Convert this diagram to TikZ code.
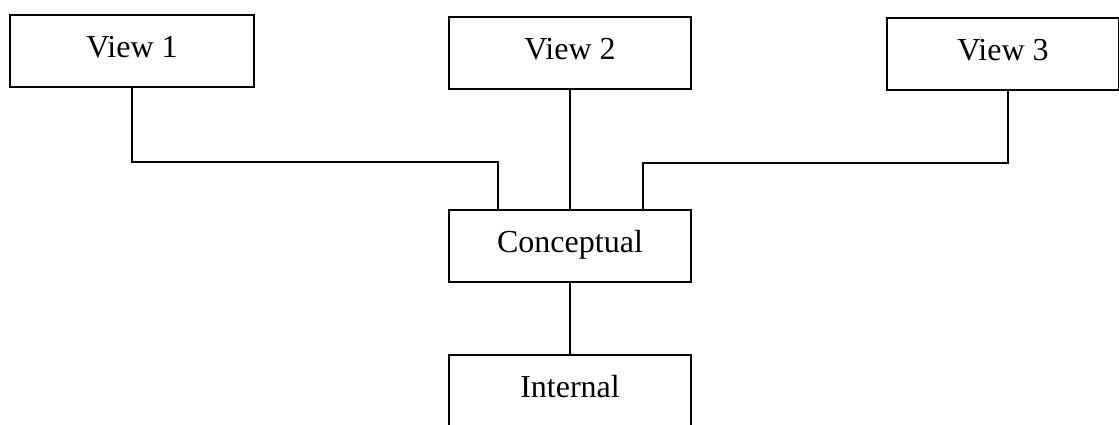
\documentclass[tikz,border=0pt]{standalone}
\usepackage{fontspec}
\setmainfont{Liberation Serif}
\tikzset{
	level/.style={draw,line width=1pt,minimum width=121pt,inner sep=0pt,text height=21pt,text depth=15pt,font=\fontsize{16}{19}\selectfont},
	link/.style={line width=1pt}
}
\begin{document}
\begin{tikzpicture}[x=0.5pt,y=-0.5pt]
	%frame
	\clip (0,0) rectangle (1119,424);
	
	%Views
	\node[level,minimum width=122pt] at (132,51) (view1) {View 1};
	\node[level] at (570,53) (view2) {View 2};
	\node[level,minimum width=116pt] at (1003,54) (view3) {View 3};
	
	%Conceptual and Internal
	\node[level] at (570,246) (concept) {Conceptual};
	\node[level] at (570,391) (internal) {Internal};
	\coordinate (cl) at ([xshift=-36pt]concept.north);
	\coordinate (cr) at ([xshift=36.5pt]concept.north);
	
	%Links
	\draw[link] (view1.south) -- ++(0,74) -| (cl);
	\draw[link] (view2) -- (concept);
	\draw[link] ([xshift=2.5pt]view3.south) -- ++(0,72) -| (cr);
	\draw[link] (concept) -- (internal);
	
\end{tikzpicture}
\end{document}
